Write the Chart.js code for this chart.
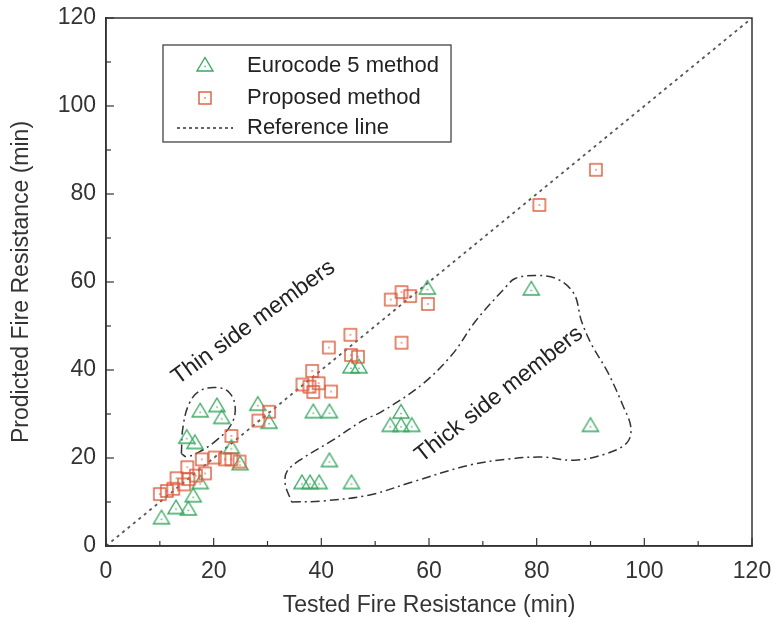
<!DOCTYPE html>
<html>
<head>
<meta charset="utf-8">
<script src="https://cdn.jsdelivr.net/npm/chart.js@4.4.1/dist/chart.umd.min.js"></script>
<style>
  html, body { margin: 0; padding: 0; background: #fff; }
  #wrap { width: 774px; height: 622px; }
</style>
</head>
<body>
<div id="wrap"><canvas id="c" width="774" height="622"></canvas></div>
<script>
// Eurocode 5 method: tested vs predicted fire resistance (min)
const ec5Tested    = [10.3, 13.0, 15.3, 16.2, 17.5, 15.0, 16.5, 17.5, 20.6, 21.5, 23.3, 24.9, 28.2, 30.3,
                      38.5, 41.5, 45.5, 47.0, 41.5, 36.4, 37.9, 39.6, 45.6, 54.8, 52.8, 54.8, 56.8, 59.7, 79.0, 90.0];
const ec5Predicted = [6.2, 8.5, 8.2, 11.2, 14.2, 24.5, 23.3, 30.5, 31.7, 29.0, 22.2, 18.5, 32.0, 27.9,
                      30.3, 30.3, 40.5, 40.5, 19.2, 14.2, 14.2, 14.2, 14.2, 30.2, 27.2, 27.2, 27.2, 58.4, 58.2, 27.2];

// Proposed method
const propTested    = [10.0, 11.3, 12.5, 13.1, 14.5, 15.3, 15.1, 16.7, 18.4, 17.8, 20.2, 22.1, 23.3, 24.8, 23.3,
                       28.3, 30.3, 36.5, 37.8, 38.3, 39.5, 38.5, 41.8, 41.4, 45.4, 45.5, 46.8, 54.9,
                       52.9, 54.9, 56.5, 59.8, 80.5, 91.0];
const propPredicted = [11.8, 12.5, 13.0, 15.4, 14.0, 15.2, 17.9, 16.0, 16.5, 19.7, 20.1, 19.7, 19.7, 19.2, 25.0,
                       28.5, 30.5, 36.7, 36.2, 39.8, 37.0, 35.0, 35.1, 45.1, 48.0, 43.4, 43.0, 46.2,
                       56.0, 57.7, 56.8, 55.0, 77.5, 85.5];

// 1:1 reference line
const refX = [0, 120];
const refY = [0, 120];

// Outline around the thin side member results
const thinLoopX = [14.0, 14.3, 15.5, 17.5, 20.5, 22.8, 24.0, 23.2, 20.5, 17.5, 15.0, 14.0];
const thinLoopY = [21.0, 27.0, 32.5, 35.3, 36.0, 35.0, 31.5, 27.5, 24.0, 21.5, 20.3, 21.0];

// Outline around the thick side member results
const thickLoopX = [34.5, 40.0, 49.0, 57.0, 67.6, 75.0, 81.0, 87.0, 93.0, 96.8, 97.5, 96.0, 93.2, 90.2, 88.3,
                    87.0, 84.0, 80.0, 76.0, 74.0, 68.7, 64.3, 58.5, 50.9, 47.8, 42.2, 36.0, 33.6, 33.3, 34.5];
const thickLoopY = [10.0, 10.2, 11.6, 14.6, 18.4, 19.8, 20.2, 19.5, 21.0, 23.5, 27.0, 32.0, 39.5, 45.8, 51.2,
                    57.2, 60.6, 61.5, 60.8, 58.5, 51.2, 43.5, 36.5, 30.3, 28.6, 24.1, 19.5, 16.9, 14.0, 10.0];

const axisTicks = [0, 20, 40, 60, 80, 100, 120];

const FONT = '"Liberation Sans", Arial, sans-serif';
const GREEN = '#3aa862';
const RED = '#dc5a3a';
const INK = '#333333';

const toXY = (xs, ys) => xs.map((x, i) => ({ x, y: ys[i] }));

// Hollow markers with a small centre dot
function triangleMarker(color) {
  const c = document.createElement('canvas');
  c.width = 20; c.height = 20;
  const g = c.getContext('2d');
  g.strokeStyle = color; g.lineWidth = 1.4;
  g.beginPath();
  g.moveTo(10, 1.5); g.lineTo(18, 15); g.lineTo(2, 15); g.closePath();
  g.stroke();
  g.fillStyle = color;
  g.fillRect(9.3, 9.8, 1.4, 1.4);
  return c;
}
function squareMarker(color) {
  const c = document.createElement('canvas');
  c.width = 16; c.height = 16;
  const g = c.getContext('2d');
  g.strokeStyle = color; g.lineWidth = 1.4;
  g.strokeRect(2, 2, 12, 12);
  g.fillStyle = color;
  g.fillRect(7.3, 7.3, 1.4, 1.4);
  return c;
}
const triImg = triangleMarker(GREEN);
const sqImg = squareMarker(RED);

// Inner tick marks and the closed frame
const framePlugin = {
  id: 'frame',
  afterDraw(chart) {
    const { ctx, chartArea: a, scales: { x, y } } = chart;
    ctx.save();
    ctx.strokeStyle = INK;
    ctx.lineWidth = 1.5;
    ctx.strokeRect(a.left, a.top, a.right - a.left, a.bottom - a.top);
    ctx.lineWidth = 1.2;
    for (let v = 0; v <= 120; v += 10) {
      const len = v % 20 === 0 ? 8 : 5;
      const px = x.getPixelForValue(v);
      ctx.beginPath(); ctx.moveTo(px, a.bottom); ctx.lineTo(px, a.bottom - len); ctx.stroke();
      const py = y.getPixelForValue(v);
      ctx.beginPath(); ctx.moveTo(a.left, py); ctx.lineTo(a.left + len, py); ctx.stroke();
    }
    ctx.restore();
  }
};

// Group labels written along the outlines
const labelPlugin = {
  id: 'groupLabels',
  afterDatasetsDraw(chart) {
    const { ctx, scales: { x, y } } = chart;
    const labels = [
      { text: 'Thin side members', x: 27.4, y: 50.8, angle: -36 },
      { text: 'Thick side members', x: 73.0, y: 34.4, angle: -38 }
    ];
    ctx.save();
    ctx.fillStyle = '#222';
    ctx.font = '23px ' + FONT;
    ctx.textAlign = 'center';
    ctx.textBaseline = 'middle';
    labels.forEach(l => {
      ctx.save();
      ctx.translate(x.getPixelForValue(l.x), y.getPixelForValue(l.y));
      ctx.rotate(l.angle * Math.PI / 180);
      ctx.fillText(l.text, 0, 0);
      ctx.restore();
    });
    ctx.restore();
  }
};

// Boxed legend
const legendPlugin = {
  id: 'boxLegend',
  afterDraw(chart) {
    const { ctx } = chart;
    ctx.save();
    ctx.font = '22px ' + FONT;
    const names = ['Eurocode 5 method', 'Proposed method', 'Reference line'];
    const tx = 247;
    const textW = Math.max(...names.map(n => ctx.measureText(n).width));
    const box = { left: 163, top: 45, width: tx + textW + 12 - 163, height: 97 };
    ctx.fillStyle = '#fff';
    ctx.fillRect(box.left, box.top, box.width, box.height);
    ctx.strokeStyle = '#444';
    ctx.lineWidth = 1.3;
    ctx.strokeRect(box.left, box.top, box.width, box.height);
    const rows = [66, 98, 128];
    const mx = 205;
    ctx.drawImage(triImg, mx - 10, rows[0] - 10);
    ctx.drawImage(sqImg, mx - 8, rows[1] - 8);
    ctx.strokeStyle = '#555';
    ctx.lineWidth = 1.8;
    ctx.setLineDash([3, 3]);
    ctx.beginPath(); ctx.moveTo(177, rows[2]); ctx.lineTo(233, rows[2]); ctx.stroke();
    ctx.setLineDash([]);
    ctx.fillStyle = '#222';
    ctx.textAlign = 'left';
    ctx.textBaseline = 'middle';
    names.forEach((n, i) => ctx.fillText(n, tx, rows[i]));
    ctx.restore();
  }
};

// Fixed axis box sizes, no extra room for overhanging end labels
const fixX = s => { s.height = 76; s.paddingLeft = 0; s.paddingRight = 0; };
const fixY = s => { s.width = 106; s.paddingTop = 0; s.paddingBottom = 0; };

new Chart(document.getElementById('c'), {
  type: 'scatter',
  data: {
    datasets: [
      {
        label: 'Eurocode 5 method',
        data: toXY(ec5Tested, ec5Predicted),
        pointStyle: triImg,
        order: 1
      },
      {
        label: 'Proposed method',
        data: toXY(propTested, propPredicted),
        pointStyle: sqImg,
        order: 0
      },
      {
        label: 'Reference line',
        data: toXY(refX, refY),
        showLine: true,
        borderColor: '#555',
        borderWidth: 1.8,
        borderDash: [3, 4],
        pointRadius: 0,
        order: 5
      },
      {
        label: 'thin',
        data: toXY(thinLoopX, thinLoopY),
        showLine: true,
        tension: 0.4,
        borderColor: INK,
        borderWidth: 1.5,
        borderDash: [9, 4, 2, 4],
        pointRadius: 0,
        order: 6
      },
      {
        label: 'thick',
        data: toXY(thickLoopX, thickLoopY),
        showLine: true,
        tension: 0.35,
        borderColor: INK,
        borderWidth: 1.5,
        borderDash: [9, 4, 2, 4],
        pointRadius: 0,
        order: 6
      }
    ]
  },
  options: {
    responsive: false,
    animation: false,
    devicePixelRatio: 1,
    layout: { padding: { top: 18, right: 22, left: 0, bottom: 0 } },
    plugins: {
      legend: { display: false },
      tooltip: { enabled: false }
    },
    scales: {
      x: {
        type: 'linear',
        min: 0, max: 120,
        afterBuildTicks: s => { s.ticks = axisTicks.map(v => ({ value: v })); },
        afterFit: fixX,
        grid: { display: false, drawTicks: false },
        border: { display: true, color: INK, width: 1.5 },
        ticks: { color: INK, font: { family: FONT, size: 23 }, padding: 12, maxRotation: 0, autoSkip: false },
        title: { display: true, text: 'Tested Fire Resistance (min)', color: INK,
                 font: { family: FONT, size: 23 }, padding: { top: 0, bottom: 3 } }
      },
      y: {
        type: 'linear',
        min: 0, max: 120,
        afterBuildTicks: s => { s.ticks = axisTicks.map(v => ({ value: v })); },
        afterFit: fixY,
        grid: { display: false, drawTicks: false },
        border: { display: true, color: INK, width: 1.5 },
        ticks: { color: INK, font: { family: FONT, size: 23 }, padding: 10, autoSkip: false },
        title: { display: true, text: 'Prodicted Fire Resistance (min)', color: INK,
                 font: { family: FONT, size: 23 }, padding: { top: 8, bottom: 0 } }
      }
    }
  },
  plugins: [framePlugin, labelPlugin, legendPlugin]
});
</script>
</body>
</html>
